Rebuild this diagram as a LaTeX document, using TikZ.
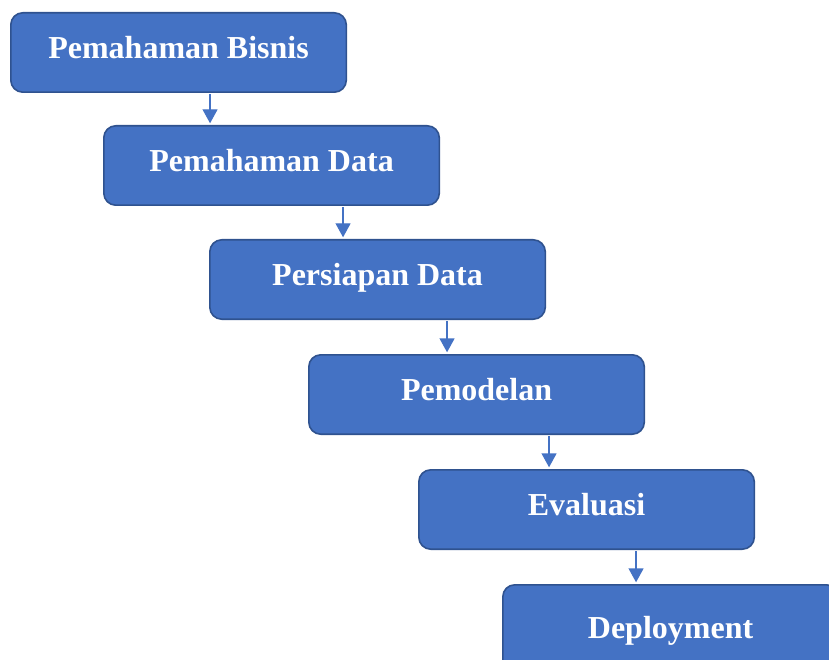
\documentclass[tikz,border=0pt]{standalone}
\usepackage{fontspec}
\setmainfont{Liberation Serif}
\usetikzlibrary{arrows.meta, positioning}
\definecolor{stageBlue}{RGB}{68,114,196}
\definecolor{stageEdge}{RGB}{47,82,143}

\begin{document}
\begin{tikzpicture}[
    x=1pt, y=-1pt,
    stage/.style={rectangle, draw=stageEdge, line width=1.6pt, rounded corners=12pt, fill=stageBlue,
        minimum width=335.5pt, inner sep=0pt, outer sep=0pt, text height=45.5pt, text depth=33.9pt,
        text=white, font=\fontsize{32}{36}\selectfont\bfseries},
    arrow/.style={-{Triangle[length=14pt, width=15pt]}, line width=1.4pt, draw=stageBlue, shorten >=2.5pt, shorten <=2pt}
]
\clip (0,0) rectangle (829,660);
\useasboundingbox (0,0) rectangle (829,660);

\node[stage, anchor=north west] (bisnis) at (10.8,12.8) {Pemahaman Bisnis};

\node[stage, below right=33.6pt and -242.5pt of bisnis] (data) {Pemahaman Data};

\node[stage, below right=34.6pt and -229.5pt of data] (persiapan) {Persiapan Data};

\node[stage, below right=35.6pt and -236.5pt of persiapan] (model) {Pemodelan};

\node[stage, below right=35.6pt and -225.5pt of model] (evaluasi) {Evaluasi};

\node[stage, below right=35.6pt and -251.5pt of evaluasi, text height=53.2pt, text depth=44pt] (deploy) {Deployment};


\draw[arrow] ([xshift=31.5pt]bisnis.south) -- ([xshift=31.5pt]bisnis.south |- data.north);
\draw[arrow] ([xshift=71.5pt]data.south) -- ([xshift=71.5pt]data.south |- persiapan.north);
\draw[arrow] ([xshift=69.5pt]persiapan.south) -- ([xshift=69.5pt]persiapan.south |- model.north);
\draw[arrow] ([xshift=72.5pt]model.south) -- ([xshift=72.5pt]model.south |- evaluasi.north);
\draw[arrow] ([xshift=49.5pt]evaluasi.south) -- ([xshift=49.5pt]evaluasi.south |- deploy.north);

\end{tikzpicture}
\end{document}
